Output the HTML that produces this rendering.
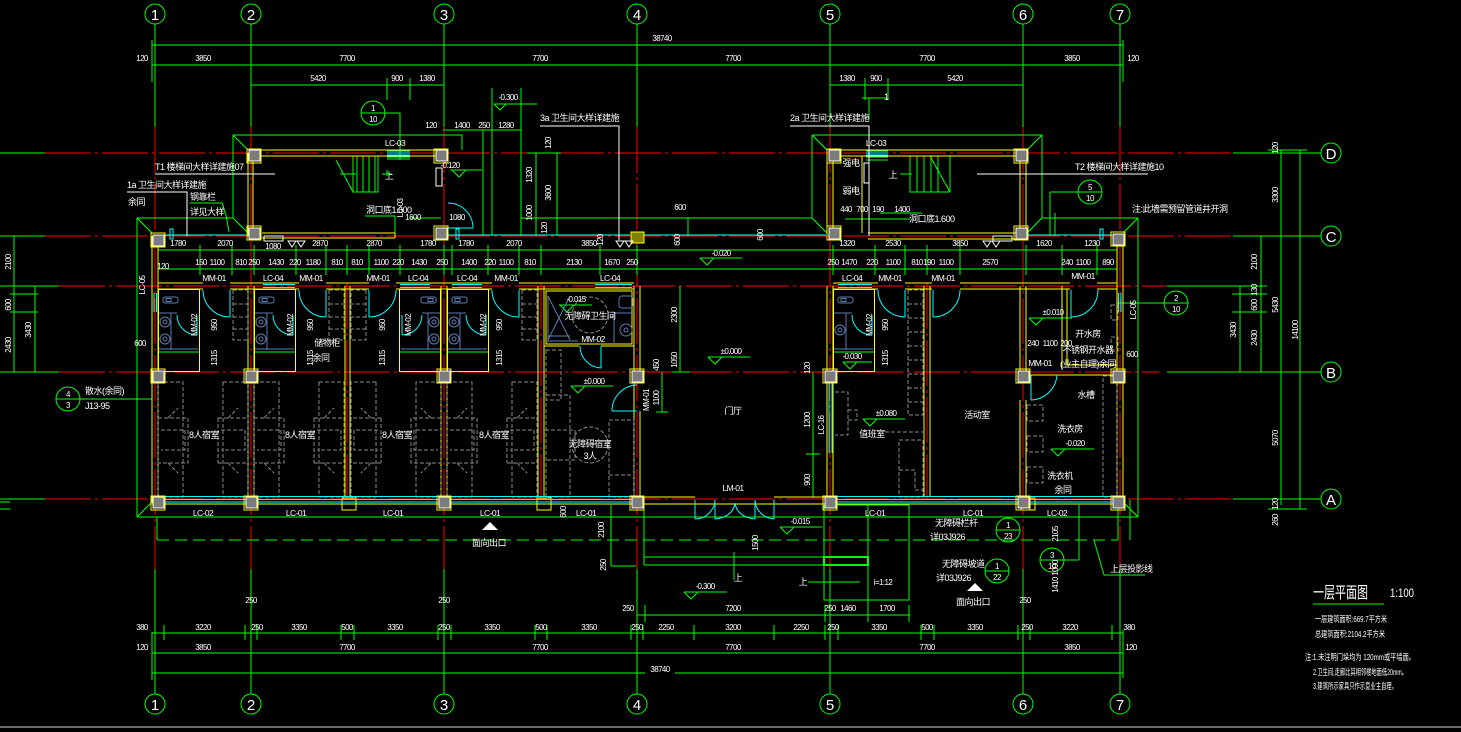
<!DOCTYPE html>
<html><head><meta charset="utf-8"><style>
html,body{margin:0;padding:0;background:#000;overflow:hidden}
svg{display:block}
text{font-family:"Liberation Sans","Noto Sans CJK SC",sans-serif;fill:#fff}
.d{font-size:8px;text-anchor:middle;letter-spacing:-0.6px}
.c{font-size:9px;letter-spacing:-0.5px}
.cm{font-size:9px;text-anchor:middle;letter-spacing:-0.5px}
.ax{font-size:15px;text-anchor:middle}
.g{stroke:#0f0;fill:none}
.r{stroke:#f00;fill:none;stroke-dasharray:46 4 3 4}
.y{stroke:#ff0;fill:none}
.cy{stroke:#0ff;fill:none}
.gr{stroke:#8a8a8a;fill:none;stroke-dasharray:4 2}
.bl{stroke:#5b7bb0;fill:none}
.w{stroke:#fff;fill:none}
</style></head><body>
<svg width="1461" height="732" viewBox="0 0 1461 732" xmlns="http://www.w3.org/2000/svg">
<rect width="1461" height="732" fill="#000"/>

<!-- ===== Axis grid ===== -->
<g class="g" shape-rendering="crispEdges">
 <path d="M155,24V127 M251,24V127 M444,24V127 M637,24V127 M830,24V127 M1023,24V127 M1120,24V127"/>
 <path d="M155,569V694 M251,569V694 M444,569V694 M637,569V694 M830,569V694 M1023,569V694 M1120,569V694"/>
 <path d="M0,153H45 M1233,153H1321 M0,236H45 M1233,236H1321 M0,372H59 M1167,372H1321 M0,499H45 M1233,499H1321 M0,286H59 M1167,286H1267"/>
</g>
<g class="r">
 <path d="M155,127V569 M251,127V569 M444,127V569 M637,127V569 M830,127V569 M1023,127V569 M1120,127V569"/>
 <path d="M45,153H1233 M45,236H1233 M59,372H1159 M45,499H1233 M59,286H1167 M347,283V500 M541,283V500 M927,283V500"/>
</g>

<g class="g">
 <circle cx="155" cy="14" r="10"/><circle cx="251" cy="14" r="10"/><circle cx="444" cy="14" r="10"/><circle cx="637" cy="14" r="10"/><circle cx="830" cy="14" r="10"/><circle cx="1023" cy="14" r="10"/><circle cx="1120" cy="14" r="10"/>
 <circle cx="155" cy="704" r="10"/><circle cx="251" cy="704" r="10"/><circle cx="444" cy="704" r="10"/><circle cx="637" cy="704" r="10"/><circle cx="830" cy="704" r="10"/><circle cx="1023" cy="704" r="10"/><circle cx="1120" cy="704" r="10"/>
 <circle cx="1331" cy="153" r="10"/><circle cx="1331" cy="236" r="10"/><circle cx="1331" cy="372" r="10"/><circle cx="1331" cy="499" r="10"/>
</g>
<g class="ax">
 <text x="155" y="20">1</text><text x="251" y="20">2</text><text x="444" y="20">3</text><text x="637" y="20">4</text><text x="830" y="20">5</text><text x="1023" y="20">6</text><text x="1120" y="20">7</text>
 <text x="155" y="710">1</text><text x="251" y="710">2</text><text x="444" y="710">3</text><text x="637" y="710">4</text><text x="830" y="710">5</text><text x="1023" y="710">6</text><text x="1120" y="710">7</text>
 <text x="1331" y="159">D</text><text x="1331" y="242">C</text><text x="1331" y="378">B</text><text x="1331" y="505">A</text>
</g>

<!-- ===== Dimension lines ===== -->
<g class="g" shape-rendering="crispEdges">
 <path d="M152,45H1123 M152,65H1123 M251,85H444 M830,85H1023 M152,40V82 M1123,40V82 M387,78V100 M410,78V100 M865,78V100 M888,78V100"/>
 <path d="M152,633H1123 M152,653H1123 M152,673H645 M675,673H1123 M152,632V680 M1123,630V678"/>
 <path d="M164,625V640 M245,625V640 M257,625V640 M341,625V640 M354,625V640 M438,625V640 M451,625V640 M535,625V640 M547,625V640 M631,625V640 M643,625V640 M694,625V640 M774,625V640 M825,625V640 M838,625V640 M921,625V640 M934,625V640 M1018,625V640 M1030,625V640 M1112,625V640"/>
 <path d="M637,615H910 M645,605V622 M825,605V622 M868,605V622 M909,605V622"/>
 <path d="M14,236V372 M35,286V372 M10,294H38 M10,312H38 M8,236H22 M8,372H40"/>
 <path d="M1240,286V372 M1261,236V372 M1281,150V505 M1300,150V509 M1268,150H1307 M1268,509H1307 M1232,294H1267 M1232,312H1267"/>
 <path d="M0,502H10 M0,509H10"/>
 <path d="M233,135H462V150 M233,135V218 M233,135L248,150 M137,218H233 M233,218L248,233 M137,218V517 M137,218L152,233 M137,517H1138 M137,517L152,502 M1138,218V517 M1138,517L1123,502"/>
 <path d="M812,135H1042V218 M812,135V218 M812,135L827,150 M1042,135L1027,150 M521,218H812 M812,218L827,233 M1042,218H1138 M1042,218L1027,233 M1138,218L1123,233"/>
 <path d="M157,540H1118" stroke-dasharray="12 6"/>
 <path d="M157,517V540 M1118,505V540"/>
 <path d="M158,250H1117 M158,269H1117"/>
 <path d="M200,245V275 M232,245V275 M254,245V275 M296,245V275 M326,245V275 M347,245V275 M369,245V275 M400,245V275 M444,245V275 M452,245V275 M488,245V275 M519,245V275 M541,245V275 M600,245V275 M637,245V275 M833,245V275 M875,245V275 M905,245V275 M927,245V275 M960,245V275 M1026,245V275 M1062,245V275 M1097,245V275 M1117,245V275"/>
 <path d="M483,130V236 M492,88V236 M521,88V236 M443,130H521 M536,153V236 M557,153V236 M527,153H561 M688,218V236 M862,98H888 M869,98V120 M1050,192H1078 M1050,192V236 M1055,213V236 M385,113H400V160"/>
 <path d="M680,286V372 M672,372H690 M662,372V412 M656,412H668 M813,372V498 M806,454H820"/>
 <path d="M644,505V565 M644,557H868 M644,565H868 M824,557H868V565 M611,505V566 M611,566H636 M824,505V600H909V505 M830,505H909 M868,505V618 M734,552V580 M808,582H860"/>
 <path d="M824,557H868V565H824Z" stroke-width="2"/>
 <path d="M1079,505V560 M1064,560H1079 M1094,540L1104,575H1145 M1130,500V540"/>
 <path d="M1117,303H1164 M80,399H152"/>
 <path d="M190,203H222L226,215L229,232 M190,218H233"/>
 <path d="M353,156H378V192H353Z M357,156V192 M363,156V192 M369,156V192 M375,156V192 M336,160L353,192 M340,174H356 M387,176V170 M382,174H392"/>
 <path d="M910,156H950V192H910Z M917,156V192 M924,156V192 M931,156V192 M938,156V192 M930,156L950,192 M900,174H912"/>
 <path d="M387,159H410 M866,160H888"/>
 <path d="M365,216H395 M395,216V233 M410,218H441 M880,213H922 M845,219H910"/>
</g>

<g class="g">
 <path d="M450,170H482 M452,170l7,7l7,-7"/>
 <path d="M494,104H537 M494,104l6,6l6,-6"/>
 <path d="M700,258H742 M700,258l7,7l7,-7"/>
 <path d="M708,357H750 M708,357l7,7l7,-7"/>
 <path d="M571,386H613 M571,386l7,7l7,-7"/>
 <path d="M559,305H592 M560,305l7,7l7,-7"/>
 <path d="M843,362H872 M843,362l7,7l7,-7"/>
 <path d="M863,419H905 M863,419l7,7l7,-7"/>
 <path d="M1029,318H1072 M1029,318l7,7l7,-7"/>
 <path d="M1051,449H1094 M1051,449l7,7l7,-7"/>
 <path d="M780,527H822 M780,527l7,7l7,-7"/>
 <path d="M684,592H727 M684,592l7,7l7,-7"/>
</g>

<g class="g">
 <circle cx="373" cy="113" r="12"/><path d="M361,113H385"/>
 <circle cx="1090" cy="192" r="12"/><path d="M1078,192H1102"/>
 <circle cx="1176" cy="303" r="12"/><path d="M1164,303H1188"/>
 <circle cx="68" cy="399" r="12"/><path d="M56,399H80"/>
 <circle cx="1008" cy="530" r="12"/><path d="M996,530H1020"/>
 <circle cx="997" cy="571" r="12"/><path d="M985,571H1009"/>
 <circle cx="1052" cy="560" r="12"/><path d="M1040,560H1064"/>
</g>
<g class="cm" style="font-size:8px">
 <text x="373" y="111">1</text><text x="373" y="122">10</text>
 <text x="1090" y="190">5</text><text x="1090" y="201">10</text>
 <text x="1176" y="301">2</text><text x="1176" y="312">10</text>
 <text x="68" y="397">4</text><text x="68" y="408">3</text>
 <text x="1008" y="528">1</text><text x="1008" y="539">23</text>
 <text x="997" y="569">1</text><text x="997" y="580">22</text>
 <text x="1052" y="558">3</text><text x="1052" y="569">10</text>
</g>

<!-- ===== Walls ===== -->
<g class="y" shape-rendering="crispEdges">
 <path d="M248,153V236 M253,156V233 M253,150H441 M253,156H441 M262,233H395 M262,238H395 M395,233V238"/>
 <path d="M827,153V236 M833,156V233 M833,150H1020 M833,156H1020 M862,156V233 M1020,153V236 M1026,156V233 M868,233H1020 M868,239H1020"/>
 <path d="M152,236V503 M158,240V497 M1117,240V497 M1123,236V503 M152,504H1123"/>
 <path d="M640,497H695 M774,497H827"/>
 <path d="M158,283H203 M230,283H299 M326,283H369 M396,283H492 M519,283H634 M833,283H878 M905,283H932 M960,283H1070 M1097,283H1117"/>
 <path d="M158,289H203 M230,289H299 M326,289H369 M396,289H492 M519,289H634 M833,289H878 M905,289H932 M960,289H1070 M1097,289H1117"/>
 <path d="M248,286V497 M254,286V497 M345,286V497 M350,286V497 M441,286V497 M447,286V497 M538,286V497 M544,286V497"/>
 <path d="M634,286V497 M640,286V383 M640,411V497 M827,286V497 M833,286V497 M924,286V497 M930,286V497 M1020,286V372 M1020,400V497 M1026,286V372 M1026,400V497"/>
 <path d="M1062,286V370 M1067,289V365 M1067,365H1117 M1026,375H1117"/>
 <path d="M544,346H579 M601,346H634 M546,291H632V344H546Z"/>
 <rect x="1021" y="498" width="14" height="12"/>
 <rect x="537" y="498" width="14" height="12"/>
 <rect x="342" y="498" width="14" height="12"/>
</g>

<!-- bathroom units (expanded) -->
<g transform="translate(158,0)">
 <rect x="0.5" y="289.5" width="41" height="82" class="y"/>
 <rect x="5" y="297" width="15" height="6" rx="2" class="bl"/><rect x="8" y="298.5" width="5" height="3" class="bl"/>
 <path d="M1,313H19 M13,313V350 M1,349H40" class="bl"/>
 <circle cx="7" cy="322" r="5" class="bl"/><circle cx="7" cy="322" r="2" class="bl"/><circle cx="7" cy="339" r="5" class="bl"/><circle cx="7" cy="339" r="2" class="bl"/>
 <path d="M1,352H41" class="g"/>
 <path d="M19,315 A20,20 0 0 0 39,335 M39,315V335 M45,290 A27,27 0 0 0 72,317 M72,290V317" class="cy"/>
 <rect x="75" y="290" width="15" height="50" class="gr"/><path d="M75,304H90 M75,317H90 M75,329H90" class="gr"/>
 <rect x="0" y="382" width="25" height="115" class="gr"/><rect x="65" y="382" width="25" height="115" class="gr"/>
 <path d="M0,418H30V463H0 M3,430H27V450H3 M60,418H90 M60,463H90 M60,418V463 M63,430H87V450H63 M10,418L20,408 M70,418L80,408 M10,463L20,473 M70,463L80,473" class="gr"/>
</g>
<g transform="translate(254,0)">
 <rect x="0.5" y="289.5" width="41" height="82" class="y"/>
 <rect x="5" y="297" width="15" height="6" rx="2" class="bl"/><rect x="8" y="298.5" width="5" height="3" class="bl"/>
 <path d="M1,313H19 M13,313V350 M1,349H40" class="bl"/>
 <circle cx="7" cy="322" r="5" class="bl"/><circle cx="7" cy="322" r="2" class="bl"/><circle cx="7" cy="339" r="5" class="bl"/><circle cx="7" cy="339" r="2" class="bl"/>
 <path d="M1,352H41" class="g"/>
 <path d="M19,315 A20,20 0 0 0 39,335 M39,315V335 M45,290 A27,27 0 0 0 72,317 M72,290V317" class="cy"/>
 <rect x="75" y="290" width="15" height="50" class="gr"/><path d="M75,304H90 M75,317H90 M75,329H90" class="gr"/>
 <rect x="0" y="382" width="25" height="115" class="gr"/><rect x="65" y="382" width="25" height="115" class="gr"/>
 <path d="M0,418H30V463H0 M3,430H27V450H3 M60,418H90 M60,463H90 M60,418V463 M63,430H87V450H63 M10,418L20,408 M70,418L80,408 M10,463L20,473 M70,463L80,473" class="gr"/>
</g>
<g transform="translate(441,0) scale(-1,1)">
 <rect x="0.5" y="289.5" width="41" height="82" class="y"/>
 <rect x="5" y="297" width="15" height="6" rx="2" class="bl"/><rect x="8" y="298.5" width="5" height="3" class="bl"/>
 <path d="M1,313H19 M13,313V350 M1,349H40" class="bl"/>
 <circle cx="7" cy="322" r="5" class="bl"/><circle cx="7" cy="322" r="2" class="bl"/><circle cx="7" cy="339" r="5" class="bl"/><circle cx="7" cy="339" r="2" class="bl"/>
 <path d="M1,352H41" class="g"/>
 <path d="M19,315 A20,20 0 0 0 39,335 M39,315V335 M45,290 A27,27 0 0 0 72,317 M72,290V317" class="cy"/>
 <rect x="75" y="290" width="15" height="50" class="gr"/><path d="M75,304H90 M75,317H90 M75,329H90" class="gr"/>
 <rect x="0" y="382" width="25" height="115" class="gr"/><rect x="65" y="382" width="25" height="115" class="gr"/>
 <path d="M0,418H30V463H0 M3,430H27V450H3 M60,418H90 M60,463H90 M60,418V463 M63,430H87V450H63 M10,418L20,408 M70,418L80,408 M10,463L20,473 M70,463L80,473" class="gr"/>
</g>
<g transform="translate(447,0)">
 <rect x="0.5" y="289.5" width="41" height="82" class="y"/>
 <rect x="5" y="297" width="15" height="6" rx="2" class="bl"/><rect x="8" y="298.5" width="5" height="3" class="bl"/>
 <path d="M1,313H19 M13,313V350 M1,349H40" class="bl"/>
 <circle cx="7" cy="322" r="5" class="bl"/><circle cx="7" cy="322" r="2" class="bl"/><circle cx="7" cy="339" r="5" class="bl"/><circle cx="7" cy="339" r="2" class="bl"/>
 <path d="M1,352H41" class="g"/>
 <path d="M19,315 A20,20 0 0 0 39,335 M39,315V335 M45,290 A27,27 0 0 0 72,317 M72,290V317" class="cy"/>
 <rect x="75" y="290" width="15" height="50" class="gr"/><path d="M75,304H90 M75,317H90 M75,329H90" class="gr"/>
 <rect x="0" y="382" width="25" height="115" class="gr"/><rect x="65" y="382" width="25" height="115" class="gr"/>
 <path d="M0,418H30V463H0 M3,430H27V450H3 M60,418H90 M60,463H90 M60,418V463 M63,430H87V450H63 M10,418L20,408 M70,418L80,408 M10,463L20,473 M70,463L80,473" class="gr"/>
</g>
<g transform="translate(833,0)">
 <rect x="0.5" y="289.5" width="41" height="82" class="y"/>
 <rect x="5" y="297" width="15" height="6" rx="2" class="bl"/><rect x="8" y="298.5" width="5" height="3" class="bl"/>
 <path d="M1,313H19 M13,313V350 M1,349H40" class="bl"/>
 <circle cx="7" cy="330" r="5" class="bl"/><circle cx="7" cy="330" r="2" class="bl"/>
 <path d="M1,352H41" class="g"/>
 <path d="M19,315 A20,20 0 0 0 39,335 M39,315V335 M45,290 A27,27 0 0 0 72,317 M72,290V317" class="cy"/>
</g>

<g class="gr">
 <rect x="908" y="290" width="15" height="125"/>
 <path d="M908,304H923 M908,318H923 M908,332H923 M908,346H923 M908,360H923 M908,374H923 M908,388H923 M908,402H923"/>
 <rect x="546" y="350" width="15" height="50"/>
 <rect x="546" y="395" width="24" height="102"/>
 <rect x="609" y="420" width="25" height="77"/>
 <path d="M545,430H575V460H545 M609,475H634"/>
 <circle cx="590" cy="315" r="18"/>
 <circle cx="590" cy="445" r="18"/>
 <path d="M835,392H848V435H835 M848,410H857V420H848"/>
 <rect x="899" y="440" width="24" height="57"/>
 <path d="M899,470H915V490H923 M885,432H923"/>
 <rect x="1103" y="376" width="14" height="121"/>
 <rect x="1027" y="405" width="16" height="16"/><rect x="1027" y="436" width="16" height="16"/><rect x="1027" y="467" width="16" height="16"/>
 <rect x="1111" y="305" width="7" height="15"/><rect x="1111" y="337" width="7" height="14"/>
</g>
<g class="bl">
 <path d="M548,296V342 M548,296L570,340 M570,296L548,340 M548,336H570 M548,341H578"/>
 <rect x="619" y="296" width="14" height="12" rx="3"/>
 <circle cx="626" cy="330" r="6"/><circle cx="626" cy="330" r="2"/>
 <path d="M614,313H634 M614,313V343"/>
</g>

<g class="cy">
 <path d="M580,346 A22,22 0 0 0 601,368 M601,346V368"/>
 <path d="M612,411 A26,26 0 0 1 637,385 M612,411H637"/>
 <path d="M473,228 A25,25 0 0 0 448,203 M448,228H473"/>
 <path d="M960,290 A27,27 0 0 1 933,317 M933,290V317"/>
 <path d="M1098,290 A27,27 0 0 1 1071,317 M1071,290V317"/>
 <path d="M1031,400 A27,27 0 0 0 1057,375 M1031,375V400"/>
 <path d="M695,500V519 M715,500V519 M755,500V519 M774,500V519 M695,519 A20,20 0 0 0 715,500 M715,519 Q733,517 735,503 M755,519 Q737,517 735,503 M774,519 A20,20 0 0 1 755,500"/>
 <path d="M158,496.5H634 M158,499.5H634 M158,502H634 M833,496.5H1117 M833,499.5H1117 M833,502H1117"/>
 <path d="M263,284.5H295 M263,287.5H295 M400,284.5H430 M400,287.5H430 M452,284.5H482 M452,287.5H482 M595,284.5H632 M595,287.5H632 M838,284.5H872 M838,287.5H872"/>
 <path d="M154,293V312 M156.5,293V312 M1118.5,293V312 M1121,293V312 M829,383V453 M832,383V453"/>
 <path d="M387,151H410 M387,153H410 M387,155H410 M387,157H410 M866,151H888 M866,153H888 M866,155H888 M866,157H888"/>
 <path d="M165,235H246 M447,235H630 M643,235H826 M1028,235H1112"/>
 <rect x="170" y="229" width="3" height="10"/><rect x="456" y="229" width="3" height="10"/><rect x="1100" y="229" width="3" height="10"/>
</g>

<g stroke="#ff0" fill="none">
 <rect x="247" y="149" width="14" height="14"/><rect x="434" y="149" width="14" height="14"/><rect x="827" y="149" width="14" height="14"/><rect x="1014" y="149" width="14" height="14"/>
 <rect x="247" y="226" width="14" height="14"/><rect x="434" y="226" width="14" height="14"/><rect x="827" y="226" width="14" height="14"/><rect x="1014" y="226" width="14" height="14"/>
 <rect x="151" y="233" width="14" height="14"/><rect x="1111" y="232" width="14" height="14"/>
 <rect x="151" y="369" width="14" height="14"/><rect x="244" y="369" width="14" height="14"/><rect x="437" y="369" width="14" height="14"/><rect x="630" y="369" width="14" height="14"/><rect x="823" y="369" width="14" height="14"/><rect x="1016" y="369" width="14" height="14"/><rect x="1111" y="369" width="14" height="14"/>
 <rect x="151" y="496" width="14" height="14"/><rect x="244" y="496" width="14" height="14"/><rect x="437" y="496" width="14" height="14"/><rect x="630" y="496" width="14" height="14"/><rect x="823" y="496" width="14" height="14"/><rect x="1016" y="496" width="14" height="14"/><rect x="1111" y="496" width="14" height="14"/>
</g>
<g fill="#7c7c7c" stroke="#fff">
 <rect x="249" y="150" width="11" height="11"/><rect x="436" y="150" width="11" height="11"/><rect x="829" y="150" width="11" height="11"/><rect x="1016" y="150" width="11" height="11"/>
 <rect x="249" y="228" width="11" height="11"/><rect x="436" y="228" width="11" height="11"/><rect x="829" y="228" width="11" height="11"/><rect x="1016" y="228" width="11" height="11"/>
 <rect x="153" y="235" width="11" height="11"/><rect x="1113" y="234" width="11" height="11"/>
 <rect x="153" y="371" width="11" height="11"/><rect x="246" y="371" width="11" height="11"/><rect x="439" y="371" width="11" height="11"/><rect x="632" y="371" width="11" height="11"/><rect x="825" y="371" width="11" height="11"/><rect x="1018" y="371" width="11" height="11"/><rect x="1113" y="371" width="11" height="11"/>
 <rect x="153" y="497" width="11" height="11"/><rect x="246" y="497" width="11" height="11"/><rect x="439" y="497" width="11" height="11"/><rect x="632" y="497" width="11" height="11"/><rect x="825" y="497" width="11" height="11"/><rect x="1018" y="497" width="11" height="11"/><rect x="1113" y="497" width="11" height="11"/>
</g>
<rect x="631" y="232" width="13" height="11" fill="#808000" stroke="#ff0"/>

<g class="w">
 <path d="M155,174H275 M127,192H187V236 M540,126H619V240 M790,126H869V236 M977,174H1148"/>
 <rect x="264" y="236" width="19" height="5"/><rect x="993" y="236" width="19" height="5"/>
 <rect x="436" y="168" width="6" height="18"/><rect x="864" y="163" width="5" height="20"/>
 <path d="M288,241l4,6l4,-6Z M297,241l4,6l4,-6Z M983,241l4,6l4,-6Z M992,241l4,6l4,-6Z M616,241l4,6l4,-6Z M625,241l4,6l4,-6Z"/>
</g>
<path d="M482,530L490,522L498,530Z" fill="#fff"/>
<path d="M967,591L975,583L983,591Z" fill="#fff"/>
<path d="M0,727H1461" stroke="#8a8a8a" stroke-width="1.5"/>

<g class="d">
 <text x="662" y="41">38740</text>
 <text x="142" y="61">120</text><text x="203" y="61">3850</text><text x="347" y="61">7700</text><text x="540" y="61">7700</text><text x="733" y="61">7700</text><text x="927" y="61">7700</text><text x="1072" y="61">3850</text><text x="1133" y="61">120</text>
 <text x="318" y="81">5420</text><text x="397" y="81">900</text><text x="427" y="81">1380</text><text x="847" y="81">1380</text><text x="876" y="81">900</text><text x="955" y="81">5420</text>
 <text x="431" y="128">120</text><text x="462" y="128">1400</text><text x="484" y="128">250</text><text x="506" y="128">1280</text>
 <text x="142" y="630">380</text><text x="203" y="630">3220</text><text x="257" y="630">250</text><text x="299" y="630">3350</text><text x="347" y="630">500</text><text x="395" y="630">3350</text><text x="444" y="630">250</text><text x="492" y="630">3350</text><text x="541" y="630">500</text><text x="589" y="630">3350</text><text x="637" y="630">250</text><text x="666" y="630">2250</text><text x="733" y="630">3200</text><text x="801" y="630">2250</text><text x="833" y="630">250</text><text x="879" y="630">3350</text><text x="927" y="630">500</text><text x="975" y="630">3350</text><text x="1027" y="630">250</text><text x="1070" y="630">3220</text><text x="1129" y="630">380</text>
 <text x="142" y="650">120</text><text x="203" y="650">3850</text><text x="347" y="650">7700</text><text x="540" y="650">7700</text><text x="733" y="650">7700</text><text x="927" y="650">7700</text><text x="1072" y="650">3850</text><text x="1131" y="650">120</text>
 <text x="660" y="672">38740</text>
 <text x="251" y="603">250</text><text x="444" y="603">250</text><text x="1025" y="603">250</text><text x="628" y="611">250</text><text x="830" y="611">250</text><text x="733" y="611">7200</text><text x="848" y="611">1460</text><text x="887" y="611">1700</text>
 <text x="178" y="246">1780</text><text x="225" y="246">2070</text><text x="273" y="249">1080</text><text x="320" y="246">2870</text><text x="374" y="246">2870</text><text x="428" y="246">1780</text><text x="466" y="246">1780</text><text x="514" y="246">2070</text><text x="589" y="246">3850</text><text x="847" y="246">1320</text><text x="893" y="246">2530</text><text x="960" y="246">3850</text><text x="1044" y="246">1620</text><text x="1092" y="246">1230</text>
 <text x="163" y="269">120</text><text x="201" y="265">150</text><text x="217" y="265">1100</text><text x="241" y="265">810</text><text x="254" y="265">250</text><text x="276" y="265">1430</text><text x="295" y="265">220</text><text x="313" y="265">1180</text><text x="337" y="265">810</text><text x="357" y="265">810</text><text x="381" y="265">1100</text><text x="398" y="265">220</text><text x="419" y="265">1430</text><text x="442" y="265">250</text><text x="469" y="265">1400</text><text x="490" y="265">220</text><text x="506" y="265">1100</text><text x="530" y="265">810</text><text x="574" y="265">2130</text><text x="612" y="265">1670</text><text x="632" y="265">250</text>
 <text x="833" y="265">250</text><text x="849" y="265">1470</text><text x="872" y="265">220</text><text x="893" y="265">1100</text><text x="917" y="265">810</text><text x="929" y="265">190</text><text x="946" y="265">1100</text><text x="990" y="265">2570</text><text x="1067" y="265">240</text><text x="1083" y="265">1100</text><text x="1108" y="265">890</text>
 <text x="413" y="220">1600</text><text x="457" y="220">1080</text><text x="680" y="210">600</text>
 <text x="1033" y="346">240</text><text x="1050" y="346">1100</text><text x="1066" y="346">200</text>
 <text x="1132" y="357">600</text><text x="140" y="346">600</text>
 <text x="450" y="168">-0.120</text><text x="508" y="100">-0.300</text><text x="721" y="256">-0.020</text><text x="731" y="354">±0.000</text><text x="594" y="384">±0.000</text><text x="576" y="302">-0.015</text><text x="852" y="359">-0.030</text><text x="886" y="416">±0.080</text><text x="1053" y="315">±0.010</text><text x="1075" y="446">-0.020</text><text x="800" y="524">-0.015</text><text x="705" y="589">-0.300</text>
 <text x="883" y="585">i=1:12</text>
 <text x="846" y="212">440</text><text x="862" y="212">700</text><text x="878" y="212">190</text><text x="902" y="212">1400</text>
</g>
<g class="d">
 <text transform="translate(11,262) rotate(-90)">2100</text>
 <text transform="translate(11,305) rotate(-90)">600</text>
 <text transform="translate(11,345) rotate(-90)">2430</text>
 <text transform="translate(31,330) rotate(-90)">3430</text>
 <text transform="translate(1257,262) rotate(-90)">2100</text>
 <text transform="translate(1257,290) rotate(-90)">130</text>
 <text transform="translate(1257,305) rotate(-90)">600</text>
 <text transform="translate(1257,338) rotate(-90)">2430</text>
 <text transform="translate(1236,330) rotate(-90)">3430</text>
 <text transform="translate(1278,305) rotate(-90)">5430</text>
 <text transform="translate(1298,330) rotate(-90)">14100</text>
 <text transform="translate(1278,438) rotate(-90)">5070</text>
 <text transform="translate(1278,195) rotate(-90)">3300</text>
 <text transform="translate(1278,148) rotate(-90)">120</text>
 <text transform="translate(1278,504) rotate(-90)">120</text>
 <text transform="translate(1278,520) rotate(-90)">260</text>
 <text transform="translate(217,325) rotate(-90)">950</text>
 <text transform="translate(217,358) rotate(-90)">1315</text>
 <text transform="translate(313,325) rotate(-90)">950</text>
 <text transform="translate(313,358) rotate(-90)">1315</text>
 <text transform="translate(385,325) rotate(-90)">950</text>
 <text transform="translate(385,358) rotate(-90)">1315</text>
 <text transform="translate(502,325) rotate(-90)">950</text>
 <text transform="translate(502,358) rotate(-90)">1315</text>
 <text transform="translate(888,325) rotate(-90)">950</text>
 <text transform="translate(888,358) rotate(-90)">1315</text>
 <text transform="translate(677,315) rotate(-90)">2300</text>
 <text transform="translate(677,360) rotate(-90)">1050</text>
 <text transform="translate(659,365) rotate(-90)">450</text>
 <text transform="translate(659,398) rotate(-90)">1100</text>
 <text transform="translate(810,420) rotate(-90)">1200</text>
 <text transform="translate(810,480) rotate(-90)">900</text>
 <text transform="translate(810,368) rotate(-90)">120</text>
 <text transform="translate(551,143) rotate(-90)">120</text>
 <text transform="translate(532,175) rotate(-90)">1320</text>
 <text transform="translate(551,193) rotate(-90)">3600</text>
 <text transform="translate(532,213) rotate(-90)">1000</text>
 <text transform="translate(547,228) rotate(-90)">120</text>
 <text transform="translate(603,240) rotate(-90)">120</text>
 <text transform="translate(680,240) rotate(-90)">600</text>
 <text transform="translate(763,235) rotate(-90)">600</text>
 <text transform="translate(566,512) rotate(-90)">600</text>
 <text transform="translate(758,543) rotate(-90)">1500</text>
 <text transform="translate(604,530) rotate(-90)">2100</text>
 <text transform="translate(606,565) rotate(-90)">250</text>
 <text transform="translate(1058,534) rotate(-90)">2105</text>
 <text transform="translate(1058,568) rotate(-90)">1000</text>
 <text transform="translate(1058,585) rotate(-90)">1410</text>
 <text transform="translate(403,208) rotate(-90)">LC-03</text>
 <text transform="translate(197,325) rotate(-90)">MM-02</text>
 <text transform="translate(293,325) rotate(-90)">MM-02</text>
 <text transform="translate(411,325) rotate(-90)">MM-02</text>
 <text transform="translate(486,325) rotate(-90)">MM-02</text>
 <text transform="translate(872,325) rotate(-90)">MM-02</text>
 <text transform="translate(649,400) rotate(-90)">MM-01</text>
 <text transform="translate(145,285) rotate(-90)">LC-05</text>
 <text transform="translate(1136,310) rotate(-90)">LC-05</text>
 <text transform="translate(824,425) rotate(-90)">LC-16</text>
</g>
<g class="d" style="font-size:8.5px">
 <text x="214" y="281">MM-01</text><text x="273" y="281">LC-04</text><text x="311" y="281">MM-01</text><text x="378" y="281">MM-01</text><text x="418" y="281">LC-04</text><text x="467" y="281">LC-04</text><text x="506" y="281">MM-01</text><text x="610" y="281">LC-04</text><text x="852" y="281">LC-04</text><text x="890" y="281">MM-01</text><text x="943" y="281">MM-01</text><text x="1083" y="279">MM-01</text>
 <text x="395" y="146">LC-03</text><text x="876" y="146">LC-03</text>
 <text x="203" y="516">LC-02</text><text x="296" y="516">LC-01</text><text x="393" y="516">LC-01</text><text x="490" y="516">LC-01</text><text x="586" y="516">LC-01</text><text x="875" y="516">LC-01</text><text x="973" y="516">LC-01</text><text x="1057" y="516">LC-02</text>
 <text x="733" y="491">LM-01</text><text x="593" y="342">MM-02</text><text x="1040" y="366">MM-01</text>
</g>
<g class="cm">
 <text x="204" y="438">8人宿室</text><text x="300" y="438">8人宿室</text><text x="397" y="438">8人宿室</text><text x="494" y="438">8人宿室</text>
 <text x="590" y="447">无障碍宿室</text><text x="590" y="459">3人</text>
 <text x="590" y="319">无障碍卫生间</text>
 <text x="733" y="414">门厅</text>
 <text x="872" y="437">值班室</text>
 <text x="977" y="418">活动室</text>
 <text x="1070" y="432">洗衣房</text>
 <text x="1088" y="337">开水房</text>
 <text x="1088" y="353">不锈钢开水器</text>
 <text x="1088" y="367">(业主自理)余同</text>
 <text x="1086" y="398">水槽</text>
 <text x="1060" y="479">洗衣机</text><text x="1063" y="493">余同</text>
 <text x="327" y="346">储物柜</text><text x="321" y="361">余同</text>
 <text x="851" y="166">强电</text><text x="851" y="194">弱电</text>
 <text x="389" y="179">上</text><text x="893" y="178">上</text><text x="738" y="581">上</text><text x="803" y="585">上</text>
</g>
<g class="c">
 <text x="155" y="170">T1 楼梯间大样详建施07</text>
 <text x="127" y="188">1a 卫生间大样详建施</text>
 <text x="128" y="205">余同</text>
 <text x="190" y="200">钢靠栏</text>
 <text x="190" y="215">详见大样</text>
 <text x="540" y="121">3a 卫生间大样详建施</text>
 <text x="790" y="121">2a 卫生间大样详建施</text>
 <text x="1075" y="170">T2 楼梯间大样详建施10</text>
 <text x="1132" y="212">注:此墙需预留管道井开洞</text>
 <text x="366" y="213">洞口底1.600</text>
 <text x="909" y="222">洞口底1.600</text>
 <text x="85" y="394">散水(余同)</text>
 <text x="85" y="409">J13-95</text>
 <text x="935" y="526">无障碍栏杆</text>
 <text x="930" y="540">详03J926</text>
 <text x="942" y="567">无障碍坡道</text>
 <text x="936" y="581">详03J926</text>
 <text x="956" y="605">面向出口</text>
 <text x="472" y="546">面向出口</text>
 <text x="1110" y="572">上层投影线</text>
 <text x="884" y="100">1</text>
</g>

<text x="1313" y="598" style="font-size:16px" textLength="55" lengthAdjust="spacingAndGlyphs">一层平面图</text>
<text x="1390" y="597" style="font-size:12px" textLength="24" lengthAdjust="spacingAndGlyphs">1:100</text>
<path d="M1313,604H1384" stroke="#0f0"/>
<g style="font-size:8.5px">
 <text x="1315" y="622" textLength="72" lengthAdjust="spacingAndGlyphs">一层建筑面积:669.7平方米</text>
 <text x="1315" y="637" textLength="70" lengthAdjust="spacingAndGlyphs">总建筑面积:2104.2平方米</text>
 <text x="1305" y="660" textLength="110" lengthAdjust="spacingAndGlyphs">注:1.未注明门垛均为 120mm或平墙面。</text>
 <text x="1313" y="675" textLength="94" lengthAdjust="spacingAndGlyphs">2.卫生间,走廊比其相邻楼地面低20mm。</text>
 <text x="1313" y="689" textLength="84" lengthAdjust="spacingAndGlyphs">3.建筑所示家具只作示意业主自理。</text>
</g>
</svg>
</body></html>
